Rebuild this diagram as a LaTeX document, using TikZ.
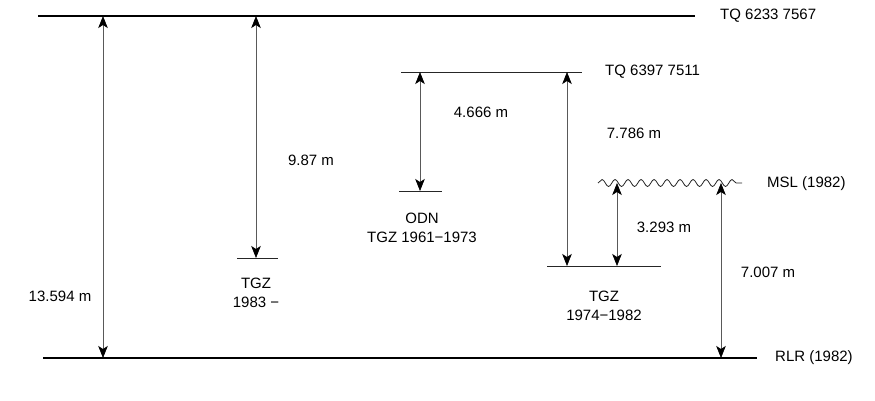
\documentclass[tikz,border=0pt]{standalone}
\usepackage{fontspec}
\setmainfont{Liberation Sans}
\usetikzlibrary{arrows.meta,decorations.pathmorphing}
\begin{document}
\begin{tikzpicture}[x=1pt,y=-1pt,
  level/.style={line width=2.6pt, black},
  sublevel/.style={line width=0.9pt, black!85},
  dimline/.style={{Stealth[length=12pt,width=9.5pt,inset=3pt,color=black,fill=black,line width=0.6pt]}-{Stealth[length=12pt,width=9.5pt,inset=3pt,color=black,fill=black,line width=0.6pt]}, line width=1pt, black!65},
  lbl/.style={font=\fontsize{15}{19}\selectfont, inner sep=0pt, align=center},
  wave/.style={decorate, decoration={snake, segment length=13pt, amplitude=3.5pt}, line width=0.8pt, black!85}]
\useasboundingbox (0,0) rectangle (875,400);
% levels
\coordinate (topL) at (38,16); \coordinate (topR) at (695,16);
\coordinate (botL) at (43,358); \coordinate (botR) at (757,358);
\coordinate (tqL) at (401,72); \coordinate (tqR) at (582,72);
\coordinate (odnL) at (399,191); \coordinate (odnR) at (442,191);
\coordinate (g83L) at (237,258); \coordinate (g83R) at (278,258);
\coordinate (g74L) at (547,266); \coordinate (g74R) at (661,266);
\coordinate (mslL) at (598,183); \coordinate (mslR) at (742,183);
\draw[level] (topL) -- (topR);
\draw[level] (botL) -- (botR);
\draw[sublevel] (tqL) -- (tqR);
\draw[sublevel] (odnL) -- (odnR);
\draw[sublevel] (g83L) -- (g83R);
\draw[sublevel] (g74L) -- (g74R);
\draw[wave] (mslL) -- (mslR);
% level labels
\node[lbl, anchor=west] (ltop) at (720,16) {TQ 6233 7567};
\node[lbl, anchor=west] (lbot) at (775,358) {RLR (1982)};
\node[lbl, anchor=west] (ltq) at (605,72) {TQ 6397 7511};
\node[lbl, anchor=west] (lmsl) at (767,184) {MSL (1982)};
\node[lbl] (lodn) at (422,228) {ODN\\TGZ 1961−1973};
\node[lbl] (l83) at (256,293) {TGZ\\1983 −};
\node[lbl] (l74) at (604,306) {TGZ\\1974−1982};
% dimension arrows
\coordinate (a1t) at (103,16); \coordinate (a1b) at (103,358);
\coordinate (a2t) at (256,16); \coordinate (a2b) at (256,258);
\coordinate (a3t) at (420,72); \coordinate (a3b) at (420,191);
\coordinate (a4t) at (567,72); \coordinate (a4b) at (567,266);
\coordinate (a5t) at (617,183); \coordinate (a5b) at (617,266);
\coordinate (a6t) at (721,183); \coordinate (a6b) at (721,358);
\draw[dimline] (a1t) -- (a1b);
\draw[dimline] (a2t) -- (a2b);
\draw[dimline] (a3t) -- (a3b);
\draw[dimline] (a4t) -- (a4b);
\draw[dimline] (a5t) -- (a5b);
\draw[dimline] (a6t) -- (a6b);
% dimension labels
\node[lbl] (d1) at (60,296) {13.594 m};
\node[lbl] (d2) at (311,160) {9.87 m};
\node[lbl] (d3) at (481,112) {4.666 m};
\node[lbl] (d4) at (634,133) {7.786 m};
\node[lbl] (d5) at (664,227) {3.293 m};
\node[lbl] (d6) at (768,272) {7.007 m};
\end{tikzpicture}
\end{document}
